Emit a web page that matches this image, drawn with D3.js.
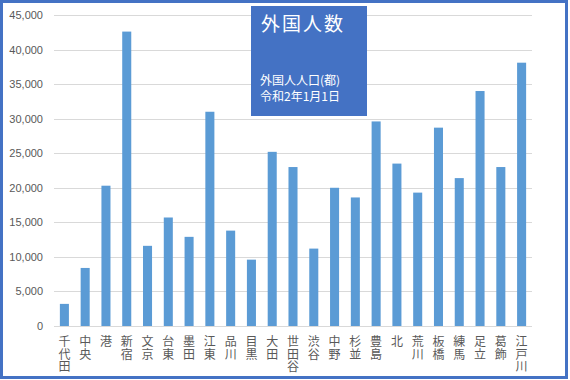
<!DOCTYPE html>
<html>
<head>
<meta charset="utf-8">
<script src="https://cdn.jsdelivr.net/npm/d3@7/dist/d3.min.js"></script>
<style>
  body { margin: 0; background: #fff; }
  svg { display: block; font-family: "Noto Sans CJK JP", sans-serif; }
</style>
</head>
<body>
<svg id="chart" width="570" height="380"></svg>
<script>
// 23区ごとの外国人人口
const wards = ["千代田", "中央", "港", "新宿", "文京", "台東", "墨田", "江東", "品川", "目黒", "大田", "世田谷",
    "渋谷", "中野", "杉並", "豊島", "北", "荒川", "板橋", "練馬", "足立", "葛飾", "江戸川"];
const population = [3200, 8400, 20300, 42600, 11600, 15700, 12900, 31000, 13800, 9600, 25200, 23000,
    11200, 20000, 18600, 29600, 23500, 19300, 28700, 21400, 34000, 23000, 38100];
const yTicks = [0, 5000, 10000, 15000, 20000, 25000, 30000, 35000, 40000, 45000];
const titleText = "外国人数";
const noteLines = ["外国人人口(都)", "令和2年1月1日"];

const svg = d3.select("#chart");
const margin = {left: 54, right: 38, top: 15, bottom: 54};
const width = +svg.attr("width");
const height = +svg.attr("height");

const x = d3.scaleBand()
    .domain(wards)
    .range([margin.left, width - margin.right])
    .paddingInner(0.565)
    .paddingOuter(0.2825);

const y = d3.scaleLinear()
    .domain([0, 45000])
    .range([height - margin.bottom, margin.top]);

// grid lines
svg.append("g")
    .selectAll("line")
    .data(yTicks)
    .enter().append("line")
    .attr("x1", margin.left)
    .attr("x2", width - margin.right)
    .attr("y1", d => Math.round(y(d)) + 0.5)
    .attr("y2", d => Math.round(y(d)) + 0.5)
    .attr("stroke", "#d9d9d9")
    .attr("stroke-width", 1);

// y axis labels
const yAxis = svg.append("g")
    .attr("transform", "translate(" + (margin.left - 11) + ",0)")
    .call(d3.axisLeft(y).tickValues(yTicks).tickSize(0).tickPadding(0).tickFormat(d3.format(",")));
yAxis.select(".domain").remove();
yAxis.selectAll("text")
    .attr("fill", "#595959")
    .style("font-size", "11px")
    .style("font-family", "Liberation Sans, Arial, sans-serif");

// bars
svg.append("g")
    .selectAll("rect")
    .data(population)
    .enter().append("rect")
    .attr("x", (d, i) => x(wards[i]))
    .attr("width", x.bandwidth())
    .attr("y", d => y(d))
    .attr("height", d => y(0) - y(d))
    .attr("fill", "#5b9bd5");

// category labels, written top-to-bottom
const labels = svg.append("g")
    .selectAll("text")
    .data(wards)
    .enter().append("text")
    .attr("text-anchor", "middle")
    .attr("fill", "#595959")
    .style("font-size", "12px")
    .attr("x", d => x(d) + x.bandwidth() / 2)
    .attr("y", y(0) + 20);
labels.selectAll("tspan")
    .data(d => d.split(""))
    .enter().append("tspan")
    .attr("x", function () { return d3.select(this.parentNode).attr("x"); })
    .attr("dy", (c, i) => i === 0 ? 0 : 12.5)
    .text(c => c);

// title box
const box = svg.append("g");
box.append("rect")
    .attr("x", 251)
    .attr("y", 6)
    .attr("width", 116)
    .attr("height", 110)
    .attr("fill", "#4472c4");
box.append("text")
    .attr("x", 261)
    .attr("y", 31)
    .attr("fill", "#fff")
    .style("font-size", "19px")
    .style("letter-spacing", "2px")
    .text(titleText);
box.selectAll("text.note")
    .data(noteLines)
    .enter().append("text")
    .attr("class", "note")
    .attr("x", 260)
    .attr("y", (d, i) => 85 + i * 16)
    .attr("fill", "#fff")
    .style("font-size", "12px")
    .text(d => d);

// frame
svg.append("rect")
    .attr("x", 1.5)
    .attr("y", 1.5)
    .attr("width", 565)
    .attr("height", 376)
    .attr("fill", "none")
    .attr("stroke", "#4472c4")
    .attr("stroke-width", 3);
</script>
</body>
</html>
